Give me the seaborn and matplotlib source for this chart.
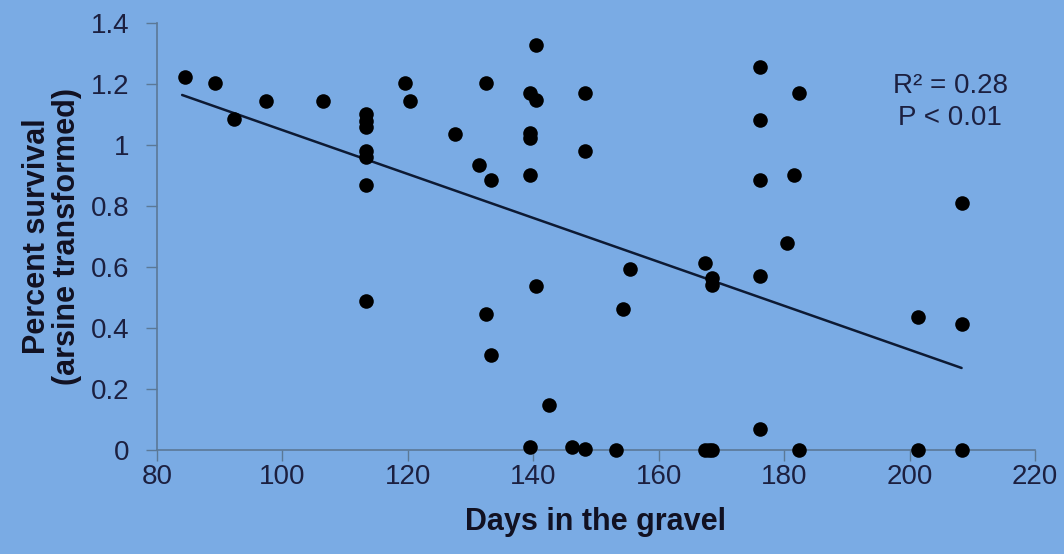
import numpy as np
import pandas as pd
import matplotlib
matplotlib.use("Agg")
import matplotlib.pyplot as plt
import seaborn as sns

days = [84.4, 89.3, 92.3, 97.3, 106.5,
        113.4, 113.4, 113.4, 113.4, 113.4, 113.4, 113.4,
        119.6, 120.4, 127.5, 131.4, 132.5, 132.5, 133.3, 133.3,
        139.5, 139.5, 139.5, 139.5, 139.5, 140.5, 140.5, 140.5, 142.5,
        146.2, 148.3, 148.3, 148.3, 153.2, 154.3, 155.5,
        167.4, 167.4, 168.0, 168.5, 168.5, 168.5,
        176.2, 176.2, 176.2, 176.2, 176.2, 180.4, 181.5, 182.3, 182.3,
        201.4, 201.4, 208.3, 208.3, 208.3]
survival = [1.224, 1.202, 1.084, 1.145, 1.145,
            1.10, 1.08, 1.06, 0.98, 0.96, 0.87, 0.489,
            1.202, 1.145, 1.035, 0.934, 1.202, 0.445, 0.885, 0.311,
            1.169, 1.038, 1.023, 0.90, 0.011, 1.328, 1.148, 0.538, 0.148,
            0.011, 1.169, 0.98, 0.003, 0.0, 0.461, 0.594,
            0.612, 0.0, 0.0, 0.563, 0.541, 0.0,
            1.257, 1.082, 0.885, 0.572, 0.068, 0.678, 0.90, 1.169, 0.0,
            0.437, 0.0, 0.809, 0.412, 0.0]

trend_x = [84.0, 208.3]
trend_y = [1.164, 0.269]

x_ticks = [80, 100, 120, 140, 160, 180, 200, 220]
y_ticks = [0, 0.2, 0.4, 0.6, 0.8, 1.0, 1.2, 1.4]
y_tick_labels = ["0", "0.2", "0.4", "0.6", "0.8", "1", "1.2", "1.4"]

stats_text = "R² = 0.28\nP < 0.01"
stats_pos = (206.5, 1.14)

df = pd.DataFrame({"days": days, "survival": survival})

bg = "#7AABE4"
sns.set_theme(style="white")
fams = ['Liberation Sans Narrow', 'Liberation Sans', 'DejaVu Sans']
plt.rcParams['font.family'] = fams

fig = plt.figure(figsize=(10.64, 5.54), dpi=100, facecolor=bg)
ax = fig.add_axes([0.1476, 0.1877, 0.9727 - 0.1476, 0.9585 - 0.1877])
ax.set_facecolor(bg)

sns.scatterplot(data=df, x="days", y="survival", ax=ax, color="black",
                s=110, edgecolor="black", linewidth=0, zorder=3,
                clip_on=False)
ax.plot(trend_x, trend_y, color="#0d1a33", linewidth=1.8, zorder=2)

ax.set_xlim(80, 220)
ax.set_ylim(0, 1.4)
ax.set_xticks(x_ticks)
ax.set_xticklabels([str(t) for t in x_ticks])
ax.set_yticks(y_ticks)
ax.set_yticklabels(y_tick_labels)

axis_col = "#5b7896"
for s in ["top", "right"]:
    ax.spines[s].set_visible(False)
for s in ["left", "bottom"]:
    ax.spines[s].set_color(axis_col)
    ax.spines[s].set_linewidth(1.2)

ax.tick_params(axis="both", which="major", direction="out", length=8,
               width=1.0, color=axis_col, labelsize=20, labelcolor="#1c2040",
               left=True, bottom=True)
ax.tick_params(axis="y", pad=12)
ax.tick_params(axis="x", pad=2)

ax.set_xlabel("Days in the gravel", fontsize=22, fontweight="bold",
              color="#111122", labelpad=12)
ax.set_ylabel("Percent survival\n(arsine transformed)", fontsize=22,
              fontweight="bold", color="#111122", labelpad=6,
              linespacing=1.0)

ax.text(stats_pos[0], stats_pos[1], stats_text,
        ha="center", va="center", fontsize=20, color="#1c2040",
        linespacing=1.3)

fig.savefig("out.png", dpi=100, facecolor=bg)
